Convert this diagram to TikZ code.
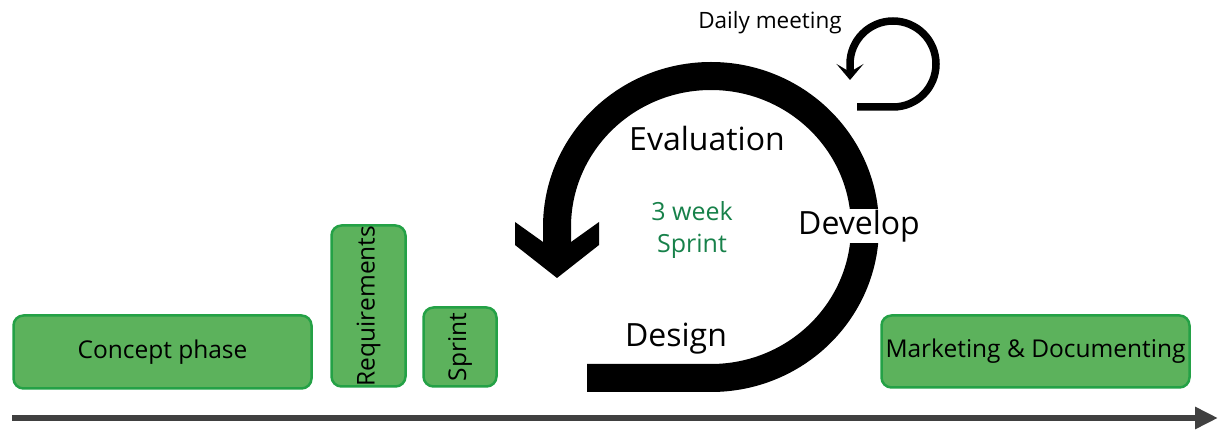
\documentclass[tikz,border=0pt]{standalone}
\usepackage{fontspec}
\setmainfont{Open Sans}
\usetikzlibrary{arrows.meta, positioning}
\definecolor{phasegreen}{HTML}{5CB25C}
\definecolor{phaseedge}{HTML}{24A146}
\definecolor{sprinttext}{HTML}{17814A}
\definecolor{timegray}{HTML}{404040}
\tikzset{
    phasebox/.style={rectangle, draw=phaseedge, fill=phasegreen, line width=2.5pt, rounded corners=10pt, inner sep=0pt, align=center, font=\fontsize{24.5}{28}\selectfont},
    steplabel/.style={inner sep=1pt, font=\fontsize{32}{36}\selectfont},
    cyclearrow/.style={line width=28pt, draw=black},
    looparrow/.style={-{Stealth[length=16pt, width=27pt, inset=8pt]}, line width=7.5pt, draw=black},
    timeline/.style={-{Triangle[length=23pt, width=21pt]}, line width=6pt, draw=timegray}
}
\begin{document}
\begin{tikzpicture}[x=1pt, y=-1pt]
    \useasboundingbox (0,0) rectangle (1219,430);
    % sprint cycle
    \draw[cyclearrow] (587,378) -- (711,378)
        arc[start angle=90, end angle=-180, x radius=154, y radius=151] -- (557,243);
    \fill (515,222) -- (543,242) -- (571,242) -- (599,222) -- (599,245) -- (557,278) -- (515,245) -- cycle;
    % daily loop
    \draw[looparrow] (857,107) -- (893,107)
        arc[start angle=90, end angle=-180, radius=43] -- (850,80);
    \node[steplabel] (eval) at (707,139) {Evaluation};
    \node[steplabel, fill=white] (develop) at (859,226) {Develop};
    \node[steplabel] (design) at (676,339) {Design};
    \node[align=center, text=sprinttext, font=\fontsize{25}{32}\selectfont] (weeks) at (692,230) {3 week\\Sprint};
    \node[font=\fontsize{22.5}{26}\selectfont] (daily) at (770,23) {Daily meeting};
    % phases
    \node[phasebox, minimum width=298, minimum height=73] (concept) at (162.5,352) {Concept phase};
    \node[phasebox, rotate=90, minimum width=161, minimum height=74] (req) at (368.5,306) {Requirements};
    \node[phasebox, rotate=90, minimum width=79, minimum height=73] (sprint) at (460,347) {Sprint};
    \node[phasebox, minimum width=308, minimum height=72] (market) at (1035.5,351.5) {Marketing \& Documenting};
    % time axis
    \coordinate (tstart) at (12,418);
    \coordinate (tend) at (1218,418);
    \draw[timeline] (tstart) -- (tend);
\end{tikzpicture}
\end{document}
